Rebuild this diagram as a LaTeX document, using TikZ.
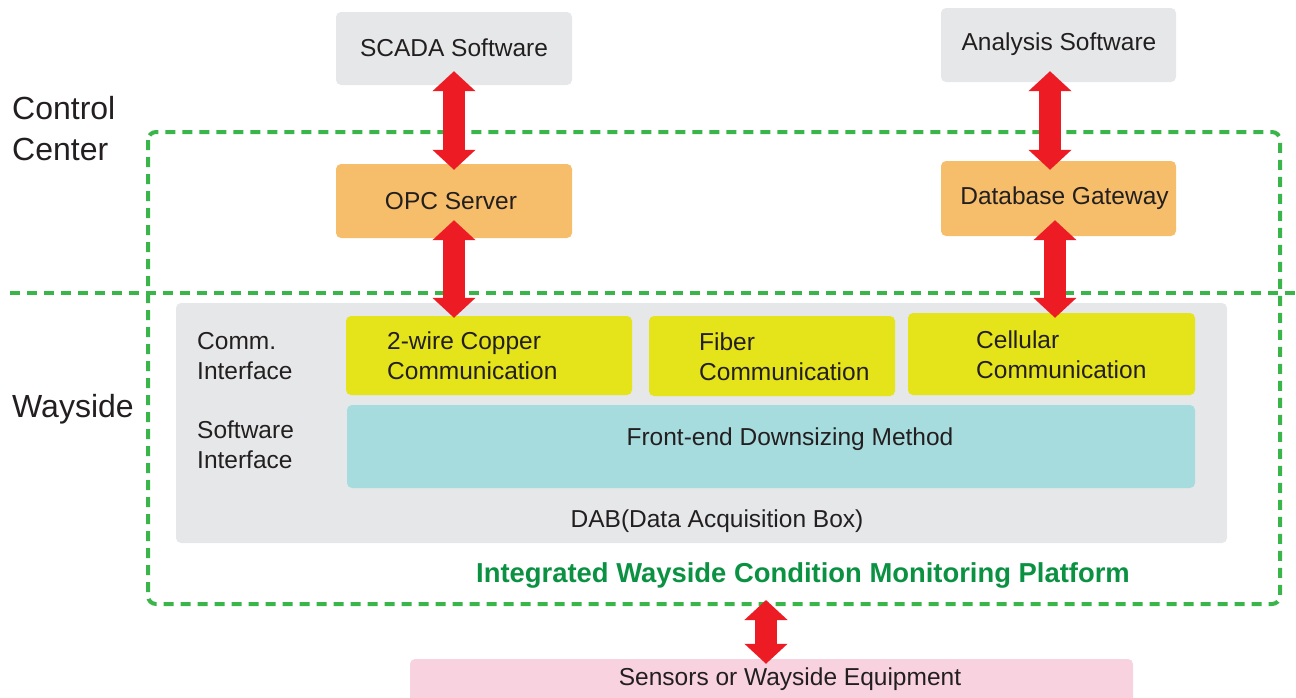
\documentclass[tikz,border=0pt]{standalone}
\usepackage{fontspec}
\setmainfont{Liberation Sans}
\usetikzlibrary{arrows.meta,positioning}

\definecolor{txt}{HTML}{231F20}
\definecolor{boxgray}{HTML}{E6E7E8}
\definecolor{boxorange}{HTML}{F6BE6A}
\definecolor{boxyellow}{HTML}{E5E31A}
\definecolor{boxteal}{HTML}{A7DCDE}
\definecolor{boxpink}{HTML}{F8D2DF}
\definecolor{framegreen}{HTML}{3AB54A}
\definecolor{titlegreen}{HTML}{0B9142}
\definecolor{arrowred}{HTML}{ED1C24}

\tikzset{
  box/.style={rectangle, rounded corners=5pt, inner sep=0pt, text=txt},
  lbl/.style={inner sep=0pt, text=txt, font=\fontsize{24.5}{30}\selectfont, align=left},
  zone/.style={inner sep=0pt, text=txt, font=\fontsize{32}{41}\selectfont, align=left, anchor=west},
  frameline/.style={draw=framegreen, line width=4pt, dash pattern=on 10pt off 7pt},
  link/.style={arrowred, line width=22pt,
    {Triangle[width=42pt,length=20pt]}-{Triangle[width=42pt,length=20pt]}},
}

\begin{document}
\begin{tikzpicture}[x=1pt, y=-1pt]
\useasboundingbox (0,0) rectangle (1296,697);

% zone labels
\node[zone] (cc) at (12,129) {Control\\Center};
\node[zone] (ws) at (12,409) {Wayside};

% outer platform frame and zone separator
\draw[frameline, rounded corners=8pt] (148,132) rectangle (1280,604);
\coordinate (sepL) at (10,293);
\coordinate (sepR) at (1296,293);
\draw[frameline] (sepL) -- (sepR);

% control-center software
\node[box, fill=boxgray, minimum width=236pt, minimum height=73pt] (scada) at (454,48.5) {};
\node[lbl] at ([yshift=1pt]scada.center) {SCADA Software};
\node[box, fill=boxgray, minimum width=235pt, minimum height=74pt] (analysis) at (1058.5,45) {};
\node[lbl] at ([xshift=0.5pt,yshift=1pt]analysis.center) {Analysis Software};

\node[box, fill=boxorange, minimum width=236pt, minimum height=74pt] (opc) at (454,201) {};
\node[lbl] at ([xshift=-3pt]opc.center) {OPC Server};
\node[box, fill=boxorange, minimum width=235pt, minimum height=75pt] (gateway) at (1058.5,198.5) {};
\node[lbl] at ([xshift=6pt]gateway.center) {Database Gateway};

% data acquisition box
\node[box, fill=boxgray, minimum width=1051pt, minimum height=240pt] (dab) at (701.5,423) {};
\node[lbl] (dablabel) at (717,521) {DAB(Data Acquisition Box)};

\node[lbl, anchor=west] (comm) at (197,356) {Comm.\\Interface};
\node[lbl, anchor=west] (soft) at (197,445) {Software\\Interface};

\node[box, fill=boxyellow, minimum width=286pt, minimum height=79pt] (copper) at (489,355.5) {};
\node[lbl, anchor=west] at (387,356) {2-wire Copper\\Communication};
\node[box, fill=boxyellow, minimum width=246pt, minimum height=80pt] (fiber) at (772,356) {};
\node[lbl, anchor=west] at (699,357) {Fiber\\Communication};
\node[box, fill=boxyellow, minimum width=287pt, minimum height=82pt] (cellular) at (1051.5,354) {};
\node[lbl, anchor=west] at (976,355) {Cellular\\Communication};

\node[box, fill=boxteal, minimum width=848pt, minimum height=83pt] (frontend) at (771,446.5) {};
\node[lbl] at (790,439) {Front-end Downsizing Method};

% platform title
\node[inner sep=0pt, text=titlegreen, font=\bfseries\fontsize{27.4}{32}\selectfont] (title) at (803,575) {Integrated Wayside Condition Monitoring Platform};

% field equipment
\node[box, fill=boxpink, minimum width=723pt, minimum height=50pt] (sensors) at (771.5,684) {};
\node[lbl] at (790,679) {Sensors or Wayside Equipment};
\coordinate (frameS) at (766,604);

% data links
\draw[link] ([yshift=14pt]scada.south) -- ([yshift=-6pt]opc.north);
\draw[link] ([yshift=18pt]opc.south) -- ([yshift=-2pt]copper.north -| opc.south);
\draw[link] ([xshift=-8.5pt,yshift=11pt]analysis.south) -- ([xshift=-8.5pt,yshift=-9pt]gateway.north);
\draw[link] ([xshift=-3.5pt,yshift=16pt]gateway.south) -- ([xshift=-3.5pt,yshift=-5pt]gateway.south |- cellular.north);
\draw[link] ([yshift=4pt]frameS) -- ([yshift=-5pt]sensors.north -| frameS);
\end{tikzpicture}
\end{document}
